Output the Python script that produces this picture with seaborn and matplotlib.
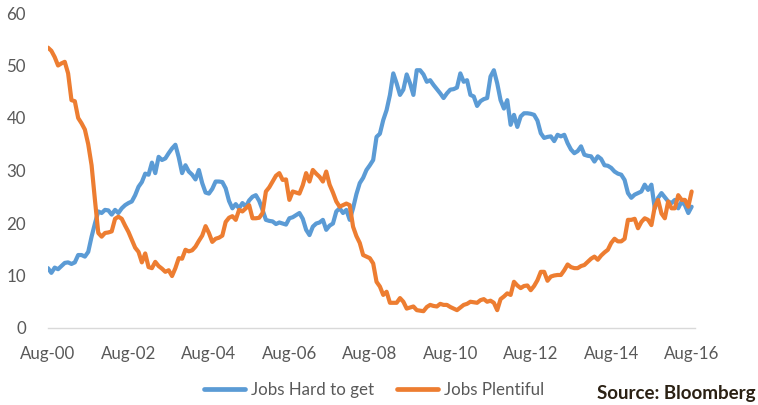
import numpy as np
import pandas as pd
import matplotlib
matplotlib.use("Agg")
import matplotlib.pyplot as plt
import seaborn as sns

# Conference Board labour differential, monthly Aug-2000 .. Aug-2016
hard_to_get = [
    11.4, 10.5, 11.5, 11.2, 11.8, 12.4, 12.5, 12.2, 12.5, 13.9,
    13.9, 13.6, 14.5, 17.4, 19.9, 22.2, 21.9, 22.5, 22.4, 21.6,
    22.5, 21.9, 22.8, 23.4, 23.8, 24.1, 25.3, 26.9, 27.8, 29.4,
    29.2, 31.5, 29.5, 32.6, 32.0, 32.3, 33.3, 34.2, 34.9, 32.5,
    29.5, 31.0, 29.8, 29.2, 28.3, 30.1, 27.6, 25.8, 25.6, 26.5,
    27.9, 27.9, 27.8, 26.6, 24.2, 22.8, 23.6, 22.8, 23.8, 23.1,
    24.3, 25.0, 25.3, 24.2, 22.5, 20.6, 20.4, 20.3, 19.8, 20.1,
    19.9, 19.7, 20.9, 21.1, 21.5, 21.9, 20.8, 18.7, 17.7, 19.3,
    19.9, 20.1, 20.6, 18.7, 19.5, 19.9, 22.2, 22.8, 21.9, 22.5,
    20.6, 22.8, 25.5, 27.6, 28.6, 30.1, 31.0, 32.0, 36.4, 37.0,
    39.6, 41.5, 44.4, 48.5, 46.6, 44.4, 45.4, 48.3, 46.6, 44.4,
    49.1, 49.1, 48.3, 46.9, 47.2, 46.3, 45.5, 44.7, 43.8, 44.7,
    45.4, 45.5, 45.8, 48.5, 46.9, 47.2, 44.4, 44.1, 42.3, 43.2,
    43.6, 43.8, 47.9, 49.1, 46.6, 43.4, 41.8, 43.4, 38.7, 40.6,
    38.3, 40.3, 40.9, 40.9, 40.8, 40.6, 39.5, 37.1, 36.2, 36.4,
    36.5, 35.6, 36.8, 36.5, 36.8, 35.2, 34.0, 33.3, 33.7, 34.6,
    33.0, 32.8, 32.7, 31.7, 32.7, 32.2, 31.0, 30.9, 30.5, 29.8,
    29.4, 29.2, 28.2, 25.7, 24.8, 25.4, 25.7, 26.0, 27.3, 26.3,
    27.3, 22.8, 24.8, 25.7, 24.9, 24.1, 23.8, 24.4, 22.8, 24.1,
    23.4, 21.9, 23.1,
]

plentiful = [
    53.4, 52.8, 51.6, 50.0, 50.4, 50.7, 48.5, 43.4, 43.2, 40.0,
    39.0, 37.8, 35.0, 31.0, 24.4, 18.1, 17.4, 18.1, 18.2, 18.4,
    20.8, 21.2, 20.8, 19.5, 18.3, 16.8, 15.3, 14.5, 12.5, 14.2,
    11.6, 11.4, 12.6, 11.8, 11.3, 10.7, 11.0, 9.9, 11.4, 13.3,
    13.2, 14.9, 14.6, 14.8, 15.5, 16.6, 17.6, 19.4, 18.1, 16.4,
    17.0, 17.2, 17.6, 20.2, 21.0, 21.3, 20.6, 22.5, 22.2, 22.8,
    23.4, 20.9, 20.9, 21.0, 21.9, 26.0, 26.8, 27.9, 29.0, 29.5,
    28.2, 28.3, 24.4, 26.0, 25.8, 25.6, 27.2, 29.5, 27.9, 30.1,
    29.4, 28.8, 27.9, 29.8, 27.3, 25.8, 24.1, 23.1, 23.4, 23.7,
    23.4, 19.3, 17.5, 16.2, 13.9, 13.6, 13.3, 12.3, 8.8, 7.9,
    6.3, 6.9, 4.8, 4.8, 4.8, 5.7, 5.0, 3.7, 3.9, 4.1,
    3.4, 3.3, 3.2, 4.0, 4.4, 4.2, 4.1, 4.6, 4.4, 4.4,
    4.0, 3.7, 3.4, 3.9, 4.4, 4.6, 5.0, 4.9, 4.8, 5.3,
    5.5, 5.0, 5.2, 4.8, 3.4, 5.5, 6.0, 6.6, 6.3, 8.8,
    8.1, 7.6, 8.0, 8.1, 7.2, 8.0, 9.1, 10.7, 10.7, 9.0,
    9.8, 10.0, 10.1, 10.1, 11.0, 12.1, 11.6, 11.4, 11.4, 11.8,
    12.0, 12.6, 13.2, 13.6, 13.0, 13.8, 14.4, 14.9, 16.2, 17.0,
    16.5, 16.5, 17.0, 20.6, 20.6, 20.8, 19.0, 20.2, 20.9, 20.6,
    19.6, 23.1, 24.4, 21.8, 20.9, 24.1, 22.8, 22.8, 25.3, 24.4,
    24.4, 23.1, 26.0,
]

series_names = ["Jobs Hard to get", "Jobs Plentiful"]
tick_labels = ["Aug-00", "Aug-02", "Aug-04", "Aug-06", "Aug-08",
               "Aug-10", "Aug-12", "Aug-14", "Aug-16"]
y_ticks = [0, 10, 20, 30, 40, 50, 60]

months = np.arange(len(hard_to_get))
df = pd.concat([
    pd.DataFrame({"month": months, "value": hard_to_get, "series": series_names[0]}),
    pd.DataFrame({"month": months, "value": plentiful, "series": series_names[1]}),
])

sns.set_theme(style="white")
plt.rcParams["font.family"] = ["Lato", "DejaVu Sans"]

W, H = 758, 405
fig = plt.figure(figsize=(W / 100, H / 100), dpi=100)
ax = fig.add_axes([48 / W, (H - 328) / H, (695 - 48) / W, (328 - 13) / H])

palette = {series_names[0]: "#5B9BD5", series_names[1]: "#ED7D31"}
sns.lineplot(data=df, x="month", y="value", hue="series", palette=palette,
             linewidth=3.0, ax=ax, legend=False)

ax.set_xlim(0, 193)
ax.set_ylim(0, 60)
ax.set_xlabel("")
ax.set_ylabel("")

# category axis: minor tick every year, label every two years
ax.set_xticks(np.arange(0, 193, 24))
ax.set_xticklabels(tick_labels)
ax.set_xticks(np.arange(0, 193, 12), minor=True)
ax.tick_params(axis="x", which="both", length=5, width=1, color="#D9D9D9",
               direction="out", pad=8, labelsize=12.2, labelcolor="#595959")
ax.set_yticks(y_ticks)
ax.tick_params(axis="y", length=0, pad=16, labelsize=12.2, labelcolor="#595959")

for side in ["top", "right", "left"]:
    ax.spines[side].set_visible(False)
ax.spines["bottom"].set_color("#D9D9D9")
ax.spines["bottom"].set_linewidth(1)
ax.grid(False)

handles = [plt.Line2D([], [], color=palette[n], linewidth=3.4) for n in series_names]
fig.legend(handles, series_names, loc="center", bbox_to_anchor=(374 / W, 1 - 390 / H),
           ncol=2, frameon=False, fontsize=12.2, handlelength=2.4,
           handletextpad=0.35, columnspacing=1.4, labelcolor="#595959")

fig.text(597 / W, 1 - 393 / H, "Source: Bloomberg", ha="left", va="center",
         fontsize=13.5, fontweight="bold", color="#2B2114")

fig.savefig("out.png", dpi=100)
